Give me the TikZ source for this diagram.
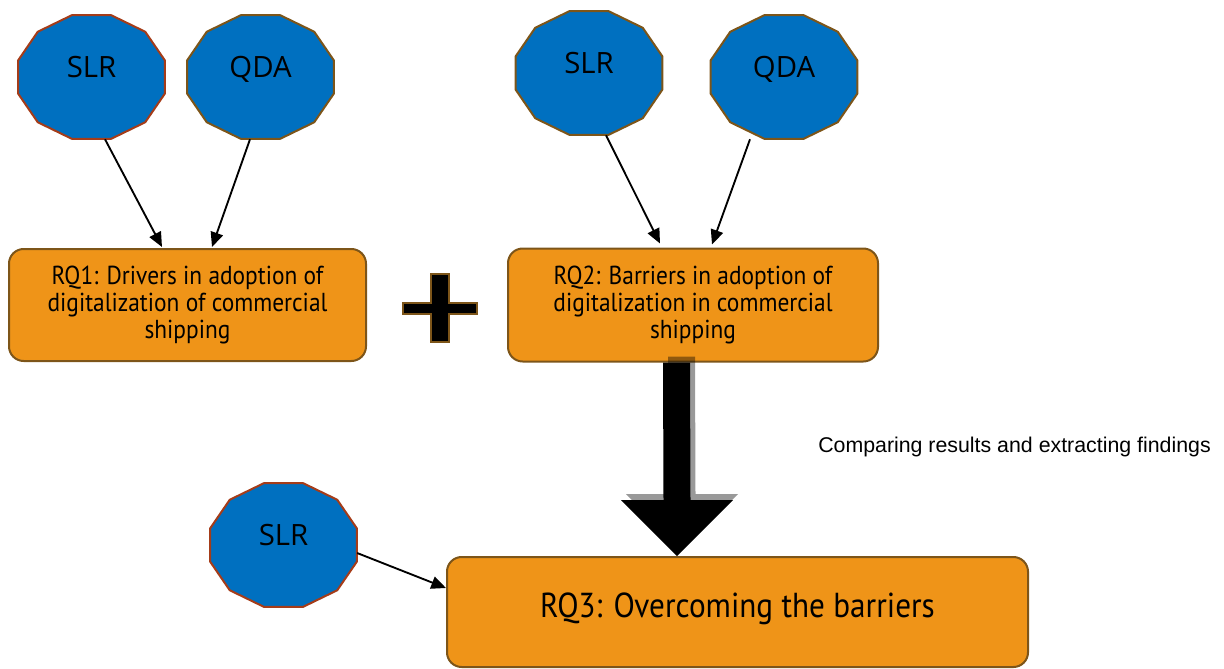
\documentclass[tikz,border=0pt]{standalone}
\usepackage{fontspec}
\setmainfont{PT Sans}[FakeStretch=0.9]
\newfontfamily\hubfont{Open Sans}
\newfontfamily\notefont{Liberation Sans}
\usetikzlibrary{arrows.meta,calc,shapes.geometric}

\definecolor{hubblue}{RGB}{0,112,192}
\definecolor{rust}{RGB}{165,60,25}
\definecolor{umber}{RGB}{125,85,25}
\definecolor{boxfill}{RGB}{239,148,24}
\definecolor{boxedge}{RGB}{125,85,25}

\begin{document}
\begin{tikzpicture}[x=0.75pt,y=-0.75pt,
	hub/.style={fill=hubblue,line width=1.5pt,line join=round},
	hubtxt/.style={ellipse,inner sep=0pt,minimum width=110pt,minimum height=93pt,
		text height=0pt,text depth=0pt,font=\hubfont\fontsize{22}{26}\selectfont},
	rq/.style={draw=boxedge,fill=boxfill,line width=1.5pt,rounded corners=11pt,
		align=center,inner sep=0pt,font=\fontsize{19.5}{20.6}\selectfont},
	link/.style={-{Triangle[length=11pt,width=9.5pt]},line width=1.4pt},
	note/.style={font=\notefont\fontsize{16}{19}\selectfont}]

	\useasboundingbox (0,0) rectangle (1224,668);

	% question boxes
	\node[rq,minimum width=267.75pt,minimum height=84pt] (rq1) at (187.5,305)
		{RQ1: Drivers in adoption of\\digitalization of commercial\\shipping};
	\node[rq,minimum width=277.5pt,minimum height=84.75pt] (rq2) at (693,305)
		{RQ2: Barriers in adoption of\\digitalization in commercial\\shipping};
	\node[rq,minimum width=435.75pt,minimum height=82.5pt,text depth=10pt,
		font=\fontsize{26}{30}\selectfont] (rq3) at (737.5,612)
		{RQ3: Overcoming the barriers};

	% the method blobs (12 sided, a bit wider than tall)
	\foreach \nm/\cx/\cy/\bc/\txt in {slra/91.5/77/rust/SLR, qdaa/260.5/77/umber/QDA,
		slrb/589/73/umber/SLR, qdab/784/77/umber/QDA, slrc/283.5/545/rust/SLR}{
		\draw[hub,draw=\bc,shift={(\cx,\cy)}] (15:76 and 64)
			\foreach \a in {45,75,...,345}{ -- (\a:76 and 64)} -- cycle;
		\node[hubtxt] (\nm) at (\cx,\cy) {\txt};
	}

	\draw[link] ($(slra.south)+(13.5,0)$) -- ($(rq1.north)+(-25.5,-1)$);
	\draw[link] ($(qdaa.south)+(-10.5,0)$) -- ($(rq1.north)+(24.5,-1)$);
	\draw[link] ($(slrb.south)+(17,0)$) -- ($(rq2.north)+(-33,-4)$);
	\draw[link] ($(qdab.south)+(-34,0)$) -- ($(rq2.north)+(19,-3)$);
	\draw[link] ($(slrc.east)+(0,8)$) -- ($(rq3.west)+(0,-24)$);

	% plus between RQ1 and RQ2
	\draw[fill=black,draw=boxedge,line width=1.5pt]
		(431,274) -- (449,274) -- (449,303) -- (477,303) -- (477,314) -- (449,314)
		-- (449,342) -- (431,342) -- (431,314) -- (403,314) -- (403,303) -- (431,303) -- cycle;

	% block arrow RQ2 -> RQ3, shadow first
	\coordinate (shafttop) at ($(rq2.south)+(-16.5,0)$);
	\coordinate (tip) at ($(rq3.north)+(-60.5,0)$);
	\foreach \dx/\dy/\op in {5/-6/0.4, 0/0/1}{
		\fill[black,opacity=\op]
			($(shafttop)+(\dx-13.5,\dy)$) -- ($(tip)+(\dx-13.5,\dy-56)$) -- ($(tip)+(\dx-56,\dy-56)$)
			-- ($(tip)+(\dx,\dy)$) -- ($(tip)+(\dx+56,\dy-56)$) -- ($(tip)+(\dx+13.5,\dy-56)$)
			-- ($(shafttop)+(\dx+13.5,\dy)$) -- cycle;
	}

	\node[note] (cmp) at (1014.5,447) {Comparing results and extracting findings};

\end{tikzpicture}
\end{document}
